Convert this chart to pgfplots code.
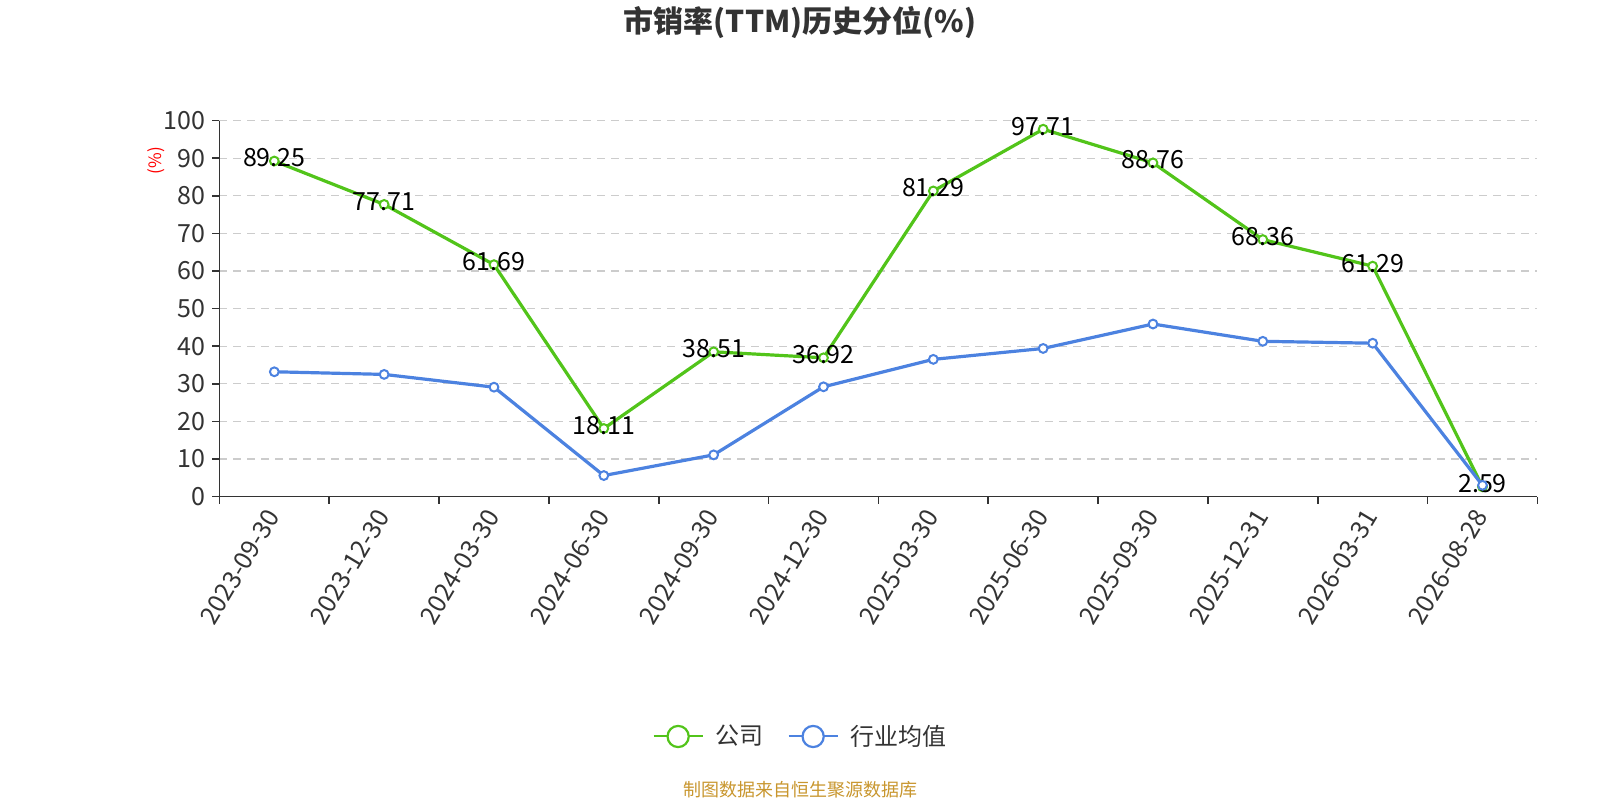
\documentclass[border=0pt]{standalone}
\usepackage{pgfplots}
\pgfplotsset{compat=1.18}
\usepackage{fontspec}
\setmainfont{Noto Sans CJK SC}
\definecolor{cgreen}{RGB}{82,196,26}
\definecolor{cblue}{RGB}{76,130,224}
\definecolor{ctext}{RGB}{51,51,51}
\definecolor{cgrid}{RGB}{204,204,204}
\definecolor{csrc}{RGB}{200,150,46}
\begin{document}
\begin{tikzpicture}
\useasboundingbox (0,0) rectangle (800pt,400pt);
\node[font=\fontsize{15}{17}\selectfont\bfseries, text=ctext] at (400pt,389pt) {市销率(TTM)历史分位(\%)};
\node[font=\fontsize{9}{11}\selectfont, text=csrc] at (400pt,5pt) {制图数据来自恒生聚源数据库};
\begin{axis}[
  at={(109.7pt,151.7pt)}, anchor=south west,
  scale only axis, width=659pt, height=188pt,
  xmin=-0.5, xmax=11.5, ymin=0, ymax=100,
  axis lines=left, axis line style={-, ctext, line width=0.8pt},
  xtick={0,...,11},
  xticklabels={2023-09-30,2023-12-30,2024-03-30,2024-06-30,2024-09-30,2024-12-30,2025-03-30,2025-06-30,2025-09-30,2025-12-31,2026-03-31,2026-08-28},
  major x tick style={draw=none},
  minor xtick={-0.5,0.5,...,11.5},
  minor tick length=3.5pt,
  minor x tick style={ctext, line width=0.8pt},
  x tick label style={rotate=59, anchor=east, font=\fontsize{12.5}{14}\selectfont, text=ctext, inner sep=1pt},
  xticklabel shift=3pt,
  ytick={0,10,...,100},
  y tick style={ctext, line width=0.8pt},
  major tick length=3.5pt,
  tick align=outside,
  y tick label style={font=\fontsize{12.5}{14}\selectfont, text=ctext},
  /pgf/number format/assume math mode=true,
  ymajorgrids, grid style={cgrid, dashed, dash pattern=on 4pt off 3pt, line width=0.6pt},
  legend columns=2,
  legend style={at={(0.441,-0.638)}, anchor=center, draw=none, fill=none,
    font=\fontsize{12}{14}\selectfont, text=ctext,
    /tikz/every odd column/.append style={column sep=5pt},
    /tikz/every even column/.append style={column sep=11pt},
    nodes={inner sep=1pt}},
  legend cell align=left,
  clip=false,
]
\addplot[cgreen, line width=1.6pt, mark=*, mark size=2.2pt, mark options={fill=white, draw=cgreen, line width=1pt},
  nodes near coords={\pgfmathprintnumber[fixed,precision=2,fixed zerofill]{\pgfplotspointmeta}},
  every node near coord/.append style={anchor=center, font=\fontsize{12.5}{14}\selectfont, text=black, yshift=1.5pt},
  legend image code/.code={\draw[cgreen, line width=1pt] (0pt,0pt) -- (24.5pt,0pt); \draw[cgreen, line width=1.1pt, fill=white] (12.25pt,0pt) circle (5.3pt);}]
coordinates {(0,89.25)(1,77.71)(2,61.69)(3,18.11)(4,38.51)(5,36.92)(6,81.29)(7,97.71)(8,88.76)(9,68.36)(10,61.29)(11,2.59)};
\addlegendentry{公司}
\addplot[cblue, line width=1.6pt, mark=*, mark size=2.2pt, mark options={fill=white, draw=cblue, line width=1pt},
  legend image code/.code={\draw[cblue, line width=1pt] (0pt,0pt) -- (24.5pt,0pt); \draw[cblue, line width=1.1pt, fill=white] (12.25pt,0pt) circle (5.3pt);}]
coordinates {(0,33.2)(1,32.5)(2,29.1)(3,5.6)(4,11.1)(5,29.2)(6,36.5)(7,39.4)(8,45.9)(9,41.3)(10,40.8)(11,3.0)};
\addlegendentry{行业均值}
\node[rotate=90, text=red, font=\fontsize{8.5}{10}\selectfont] at (axis description cs:-0.0477,0.894) {(\%)};
\end{axis}
\end{tikzpicture}
\end{document}
